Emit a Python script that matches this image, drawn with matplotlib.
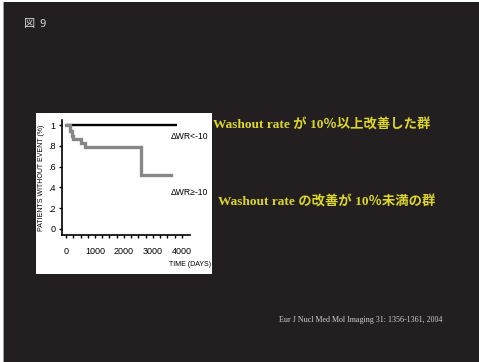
import matplotlib
matplotlib.use("Agg")
import matplotlib.pyplot as plt
from matplotlib.patches import Rectangle

# Kaplan-Meier curves (days, fraction without event)
t_low = [0, 3820]
s_low = [1.0, 1.0]
t_high = [0, 130, 190, 250, 530, 640, 2580, 3620]
s_high = [1.0, 0.94, 0.90, 0.87, 0.83, 0.79, 0.52, 0.52]

x_ticks = [0, 1000, 2000, 3000, 4000]
y_ticks = [0, 0.2, 0.4, 0.6, 0.8, 1.0]
y_ticklabels = ["0", ".2", ".4", ".6", ".8", "1"]

label_low = "ΔWR<-10"
label_high = "ΔWR≥-10"
note_low = "Washout rate が 10％以上改善した群"
note_high = "Washout rate の改善が 10％未満の群"
citation = "Eur J Nucl Med Mol Imaging 31: 1356-1361, 2004"

bg = "#231f20"
yellow = "#dcd62a"
jp_bold = ["Liberation Serif", "Noto Sans CJK JP"]
narrow = ["Liberation Sans Narrow", "Liberation Sans", "DejaVu Sans"]

fig = plt.figure(figsize=(4.79, 3.62), dpi=100)
fig.patch.set_facecolor("white")

# dark slide background with thin gray edge on the left
W, H = 479.0, 362.0
fig.patches.append(Rectangle((3 / W, 0), 1 / W, 1 - 2 / H, transform=fig.transFigure,
                             facecolor="#9a9a9a", edgecolor="none", zorder=-10))
fig.patches.append(Rectangle((4 / W, 0), 1, 1 - 2 / H, transform=fig.transFigure,
                             facecolor=bg, edgecolor="none", zorder=-10))
# white panel behind the plot
fig.patches.append(Rectangle((36 / W, 1 - 274 / H), 176 / W, 161 / H,
                             transform=fig.transFigure, facecolor="white",
                             edgecolor="none", zorder=-9))

fig.text(24 / W, 1 - 24 / H, "図  9", color="#d8d8d8", fontsize=8,
         family=["Noto Sans CJK JP", "DejaVu Sans"], va="center", ha="left")

ax = fig.add_axes([62 / W, 1 - 235 / H, 128 / W, 115 / H])
ax.set_facecolor("white")
ax.plot(t_low, s_low, color="black", lw=1.7, solid_capstyle="butt")
ax.plot(t_high, s_high, color="#878787", lw=2.4, drawstyle="steps-post",
        solid_joinstyle="miter")

ax.set_xlim(-140, 4280)
ax.set_ylim(-0.06, 1.05)
ax.set_xticks(x_ticks)
ax.set_xticks(range(0, 4001, 250), minor=True)
ax.set_yticks(y_ticks)
ax.set_yticklabels(y_ticklabels)
for s in ["top", "right"]:
    ax.spines[s].set_visible(False)
for s in ["left", "bottom"]:
    ax.spines[s].set_linewidth(1.2)
ax.tick_params(which="major", direction="out", length=2.5, width=1, labelsize=6.5)
ax.tick_params(axis="y", pad=2)
ax.tick_params(axis="x", pad=6)
ax.tick_params(which="minor", direction="out", length=2, width=1)
for lab in ax.get_xticklabels() + ax.get_yticklabels():
    lab.set_family(narrow)

ax.set_ylabel("PATIENTS WITHOUT EVENT (%)", fontsize=5, family=narrow, labelpad=2)
ax.text(1.0, -0.26, "TIME (DAYS)", transform=ax.transAxes, fontsize=5,
        family=narrow, ha="center", va="center")
ax.text(1.14, 0.855, label_low, transform=ax.transAxes, fontsize=6.2,
        family=narrow, ha="right", va="center")
ax.text(1.14, 0.37, label_high, transform=ax.transAxes, fontsize=6.2,
        family=narrow, ha="right", va="center")

fig.text(213 / W, 1 - 125 / H, note_low, color=yellow, fontsize=9.6,
         family=jp_bold, weight="bold", va="center", ha="left")
fig.text(218 / W, 1 - 202 / H, note_high, color=yellow, fontsize=9.6,
         family=jp_bold, weight="bold", va="center", ha="left")
fig.text(279 / W, 1 - 320 / H, citation, color="#d0d0d0", fontsize=5.8,
         family="Liberation Serif", va="center", ha="left")

fig.savefig("out.png", dpi=100, facecolor=fig.get_facecolor())
